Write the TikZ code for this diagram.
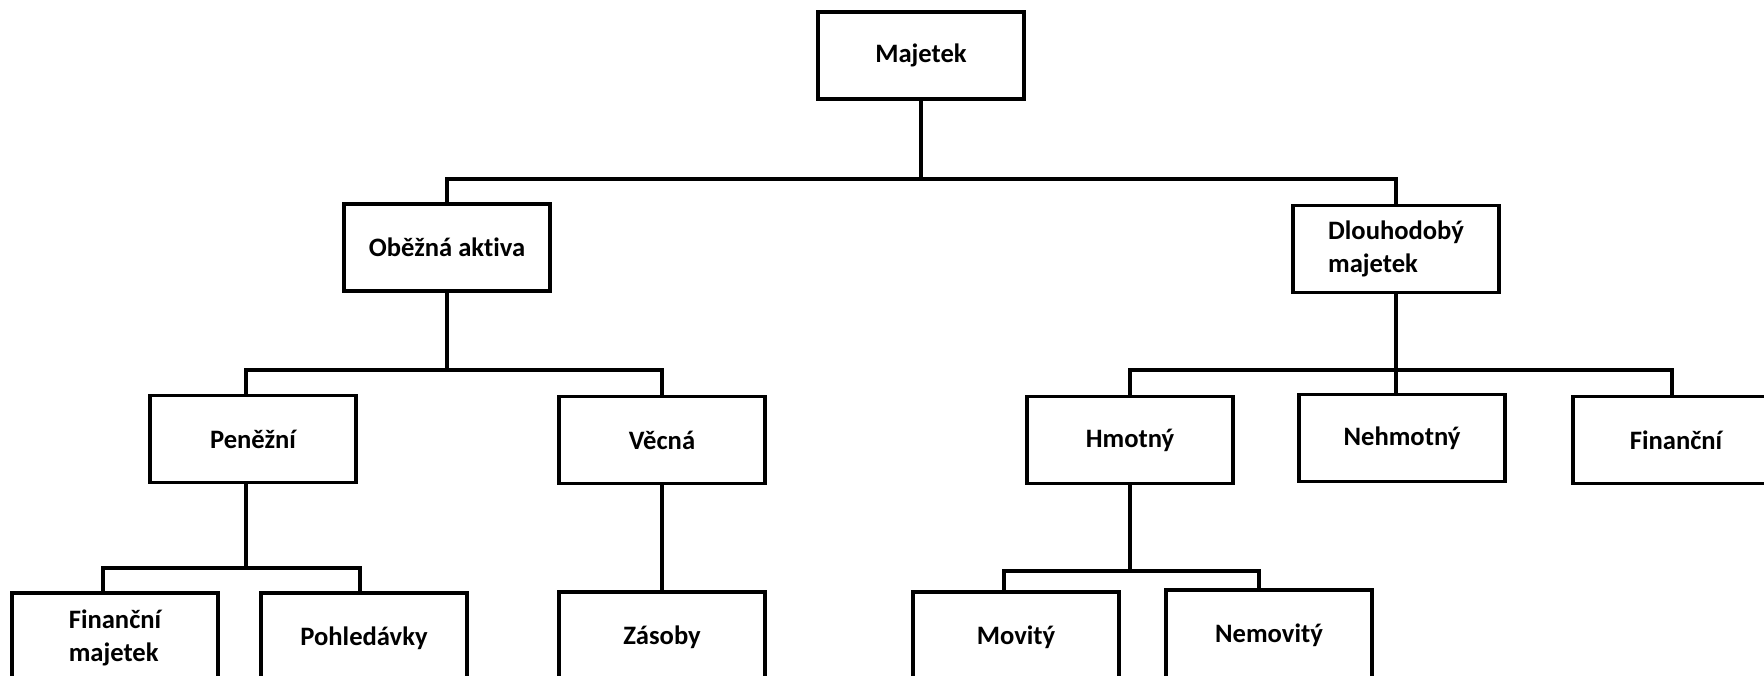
\documentclass[tikz,border=0pt]{standalone}
\usepackage{fontspec}
\setmainfont{Carlito}[Ligatures=NoCommon]
\tikzset{
  box/.style={draw, line width=1.6pt, minimum width=103pt, minimum height=43.5pt,
    inner sep=0pt, align=left, font=\fontsize{13.3}{16.3}\selectfont\bfseries},
  link/.style={draw, line width=1.6pt}
}
\begin{document}
\begin{tikzpicture}[x=0.5pt,y=-0.5pt]
    \useasboundingbox (0,0) rectangle (1764,675);
    \clip (0,0) rectangle (1764,675);

    % levels of the tree
    \node[box] (majetek) at (921,55.5) {Majetek};
    \node[box] (obezna) at (447,247.5) {Oběžná aktiva};
    \node[box] (dlouho) at (1396,249) {Dlouhodobý\\majetek};
    \node[box] (penezni) at (253,439) {Peněžní};
    \node[box] (vecna) at (662,440) {Věcná};
    \node[box] (hmotny) at (1130,440) {Hmotný};
    \node[box] (nehmotny) at (1402,438) {Nehmotný};
    \node[box] (financni) at (1676,440) {Finanční};
    \node[box, minimum height=45pt] (finmaj) at (115,638) {Finanční\\majetek};
    \node[box, minimum height=45pt] (pohled) at (364,638) {Pohledávky};
    \node[box, minimum height=45pt] (zasoby) at (662,637) {Zásoby};
    \node[box, minimum height=45pt] (movity) at (1016,637) {Movitý};
    \node[box, minimum height=45pt] (nemovity) at (1269,635) {Nemovitý};

    \coordinate (m bus) at (921,179);
    \coordinate (o bus) at (447,370);
    \coordinate (d bus) at (1396,370);
    \coordinate (p bus) at (246,568);
    \coordinate (h bus) at (1130,571);

    \draw[link] (majetek) -- (m bus);
    \draw[link] (obezna.north) |- (m bus) -| (dlouho.north);

    \draw[link] (obezna) -- (o bus);
    \draw[link] ([xshift=-3.5pt]penezni.north) |- (o bus) -| (vecna.north);

    \draw[link] (dlouho) -- (d bus);
    \draw[link] (hmotny.north) |- (d bus) -| ([xshift=-2pt]financni.north);
    \draw[link] (d bus) -- (d bus |- nehmotny.north);

    \draw[link] ([xshift=-3.5pt]penezni.south) -- (p bus);
    \draw[link] ([xshift=-6pt]finmaj.north) |- (p bus) -| ([xshift=-2pt]pohled.north);
    \draw[link] (vecna) -- (zasoby);

    \draw[link] (hmotny) -- (h bus);
    \draw[link] ([xshift=-6pt]movity.north) |- (h bus) -| ([xshift=-5pt]nemovity.north);

\end{tikzpicture}
\end{document}
